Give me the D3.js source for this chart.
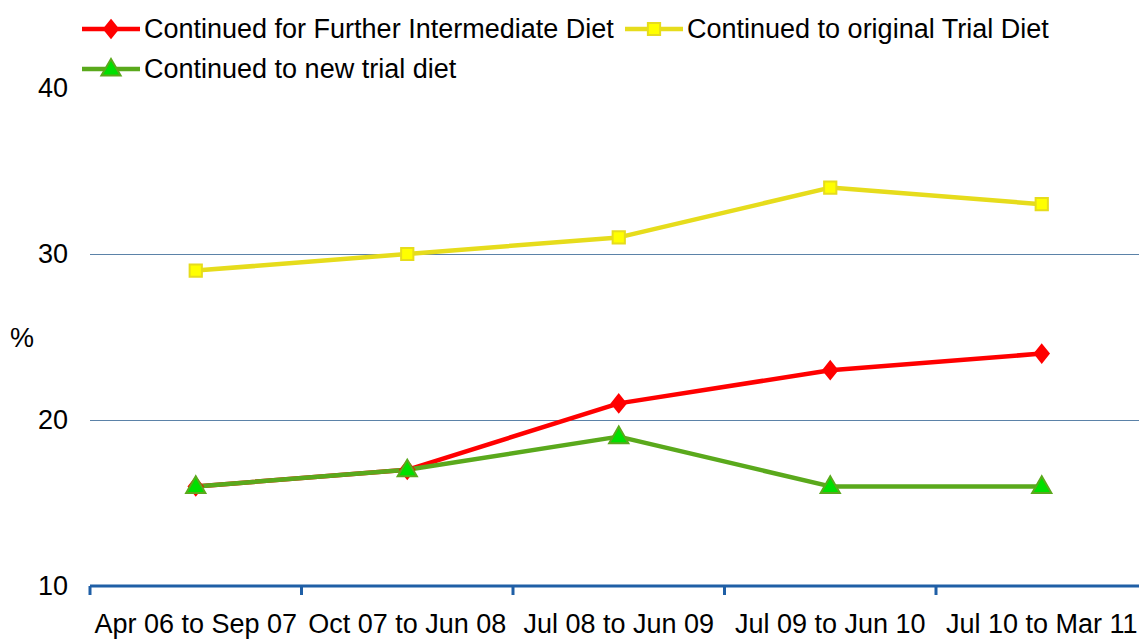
<!DOCTYPE html>
<html>
<head>
<meta charset="utf-8">
<script src="https://cdn.jsdelivr.net/npm/d3@7.9.0/dist/d3.min.js"></script>
<style>
  html, body { margin: 0; padding: 0; background: #fff; }
  svg { display: block; font-family: "Liberation Sans", Arial, sans-serif; }
</style>
</head>
<body>
<svg id="chart" width="1139" height="639"></svg>
<script>
// data
const categories = ['Apr 06 to Sep 07', 'Oct 07 to Jun 08', 'Jul 08 to Jun 09', 'Jul 09 to Jun 10', 'Jul 10 to Mar 11'];
const furtherIntermediate = [16, 17, 21, 23, 24];
const originalTrial = [29, 30, 31, 34, 33];
const newTrial = [16, 17, 19, 16, 16];
const yTicks = [10, 20, 30, 40];

const series = [
  { name: 'Continued for Further Intermediate Diet', values: furtherIntermediate, line: '#ff0000', fill: '#ff0000', stroke: '#ff0000', marker: 'diamond' },
  { name: 'Continued to original Trial Diet', values: originalTrial, line: '#e6dc1c', fill: '#ffff00', stroke: '#e6dc1c', marker: 'square' },
  { name: 'Continued to new trial diet', values: newTrial, line: '#5aa91c', fill: '#00e000', stroke: '#5aa91c', marker: 'triangle' }
];

const FS = 27;
const svg = d3.select('#chart');
const left = 90, bandW = 211.5;
const x = d3.scaleBand().domain(categories).range([left, left + bandW * categories.length]);
const y = d3.scaleLinear().domain([10, 40]).range([586, 88]);

function drawMarker(g, type) {
  if (type === 'diamond') {
    return g.append('path').attr('d', d3.symbol().type(d3.symbolDiamond2).size(120)())
      .attr('transform', 'scale(1,1.25)');
  }
  if (type === 'square') {
    return g.append('path').attr('d', d3.symbol().type(d3.symbolSquare).size(150)());
  }
  return g.append('path').attr('d', d3.symbol().type(d3.symbolTriangle).size(160)())
    .attr('transform', 'translate(0,1)');
}

// gridlines
svg.append('g').selectAll('line').data([20, 30]).enter().append('line')
  .attr('x1', left).attr('x2', 1139)
  .attr('y1', d => y(d) + 0.5).attr('y2', d => y(d) + 0.5)
  .attr('stroke', '#5b82a8').attr('stroke-width', 1);

// y labels
svg.append('g').selectAll('text').data(yTicks).enter().append('text')
  .attr('x', 68).attr('y', d => y(d)).attr('dy', '0.35em')
  .attr('text-anchor', 'end').attr('font-size', FS).attr('fill', '#000')
  .text(d => d);
svg.append('text').attr('x', 22).attr('y', 338).attr('dy', '0.35em')
  .attr('text-anchor', 'middle').attr('font-size', FS).text('%');

// x axis
const xAxis = svg.append('g').attr('transform', `translate(0,${y(10)})`);
xAxis.append('line').attr('x1', left).attr('x2', 1139).attr('stroke', '#1f5fa6').attr('stroke-width', 3);
xAxis.selectAll('line.tick').data(categories).enter().append('line').attr('class', 'tick')
  .attr('x1', d => x(d)).attr('x2', d => x(d)).attr('y1', 0).attr('y2', 9)
  .attr('stroke', '#1f5fa6').attr('stroke-width', 3);
xAxis.selectAll('text').data(categories).enter().append('text')
  .attr('x', d => x(d) + x.bandwidth() / 2).attr('y', 47)
  .attr('text-anchor', 'middle').attr('font-size', FS).attr('fill', '#000')
  .text(d => d);

// lines & markers
const cx = (d, i) => x(categories[i]) + x.bandwidth() / 2;
const line = d3.line().x(cx).y(d => y(d));

series.forEach(s => {
  svg.append('path').datum(s.values).attr('d', line)
    .attr('fill', 'none').attr('stroke', s.line).attr('stroke-width', 4.5)
    .attr('stroke-linejoin', 'round');
});
series.forEach(s => {
  s.values.forEach((v, i) => {
    const g = svg.append('g').attr('transform', `translate(${cx(v, i)},${y(v)})`);
    drawMarker(g, s.marker).attr('fill', s.fill).attr('stroke', s.stroke).attr('stroke-width', 2);
  });
});

// legend
const legendPos = [[82, 29], [625, 29], [82, 69]];
series.forEach((s, i) => {
  const [lx, ly] = legendPos[i];
  const g = svg.append('g').attr('transform', `translate(${lx},${ly})`);
  g.append('line').attr('x1', 0).attr('x2', 58).attr('stroke', s.line).attr('stroke-width', 4.5);
  const mg = g.append('g').attr('transform', 'translate(29,0)');
  drawMarker(mg, s.marker).attr('fill', s.fill).attr('stroke', s.stroke).attr('stroke-width', 2);
  g.append('text').attr('x', 62).attr('y', 0).attr('dy', '0.35em')
    .attr('font-size', FS).attr('fill', '#000').text(s.name);
});
</script>
</body>
</html>
